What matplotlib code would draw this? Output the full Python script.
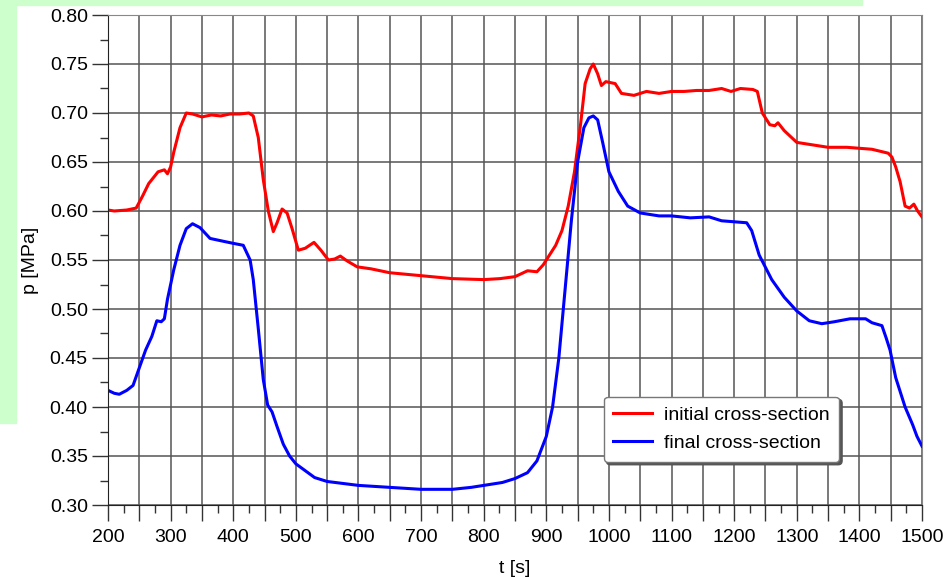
import numpy as np
import matplotlib.pyplot as plt
from matplotlib.patches import Rectangle
from matplotlib.ticker import MultipleLocator, FuncFormatter

plt.rcParams['font.family'] = ['Liberation Sans', 'DejaVu Sans']

# initial cross-section (red)
t_init = [200, 210, 230, 245, 255, 265, 280, 290, 295, 300, 305, 315, 325, 335, 350,
          365, 380, 395, 410, 425, 432, 440, 448, 456, 464, 470, 478, 486, 494, 504,
          515, 529, 540, 552, 562, 571, 582, 598, 620, 650, 700, 750, 800, 826, 850,
          870, 885, 895, 905, 915, 925, 935, 945, 955, 962, 970, 975, 982, 988, 995,
          1010, 1020, 1040, 1060, 1080, 1100, 1120, 1140, 1160, 1180, 1195, 1210, 1230,
          1237, 1245, 1257, 1265, 1270, 1280, 1300, 1310, 1330, 1350, 1380, 1400, 1420,
          1446, 1452, 1458, 1465, 1473, 1480, 1487, 1493, 1500]
p_init = [0.601, 0.600, 0.601, 0.603, 0.615, 0.628, 0.640, 0.642, 0.638, 0.645, 0.660,
          0.685, 0.700, 0.699, 0.696, 0.698, 0.697, 0.699, 0.699, 0.700, 0.697, 0.675,
          0.632, 0.600, 0.579, 0.588, 0.602, 0.598, 0.582, 0.560, 0.562, 0.568, 0.560,
          0.550, 0.551, 0.554, 0.549, 0.543, 0.541, 0.537, 0.534, 0.531, 0.530, 0.531,
          0.533, 0.539, 0.538, 0.545, 0.555, 0.565, 0.580, 0.605, 0.640, 0.690, 0.730,
          0.745, 0.750, 0.740, 0.728, 0.732, 0.730, 0.720, 0.718, 0.722, 0.720, 0.722,
          0.722, 0.723, 0.723, 0.725, 0.722, 0.725, 0.724, 0.722, 0.700, 0.688, 0.687,
          0.690, 0.682, 0.670, 0.669, 0.667, 0.665, 0.665, 0.664, 0.663, 0.659, 0.655,
          0.645, 0.630, 0.605, 0.603, 0.607, 0.600, 0.594]

# final cross-section (blue)
t_fin = [200, 210, 218, 230, 240, 250, 260, 270, 278, 285, 290, 295, 305, 315, 325,
         335, 347, 363, 385, 400, 416, 427, 432, 440, 448, 455, 462, 470, 480, 490,
         500, 515, 530, 550, 600, 650, 700, 750, 780, 800, 830, 850, 870, 885, 900,
         910, 920, 930, 940, 950, 960, 968, 975, 982, 990, 1000, 1015, 1030, 1050,
         1080, 1100, 1130, 1160, 1180, 1200, 1220, 1228, 1240, 1260, 1280, 1300, 1320,
         1340, 1360, 1385, 1410, 1420, 1436, 1443, 1449, 1458, 1473, 1485, 1492, 1500]
p_fin = [0.417, 0.414, 0.413, 0.417, 0.422, 0.440, 0.458, 0.472, 0.488, 0.487, 0.490,
         0.510, 0.540, 0.565, 0.582, 0.587, 0.583, 0.572, 0.569, 0.567, 0.565, 0.550,
         0.530, 0.480, 0.428, 0.402, 0.395, 0.380, 0.362, 0.350, 0.342, 0.335, 0.328,
         0.324, 0.320, 0.318, 0.316, 0.316, 0.318, 0.320, 0.323, 0.327, 0.333, 0.345,
         0.370, 0.400, 0.450, 0.520, 0.590, 0.650, 0.685, 0.695, 0.697, 0.693, 0.670,
         0.640, 0.620, 0.605, 0.598, 0.595, 0.595, 0.593, 0.594, 0.590, 0.589, 0.588,
         0.580, 0.555, 0.530, 0.512, 0.498, 0.488, 0.485, 0.487, 0.490, 0.490, 0.486,
         0.483, 0.470, 0.458, 0.430, 0.400, 0.382, 0.370, 0.360]

fig = plt.figure(figsize=(9.43, 5.77), dpi=100)
# light green slide background pieces
fig.patches.append(Rectangle((0, 1 - 5 / 577), 862 / 943, 5 / 577, transform=fig.transFigure,
                             color='#ccffcc', zorder=0))
fig.patches.append(Rectangle((0, 1 - 423 / 577), 16 / 943, 423 / 577, transform=fig.transFigure,
                             color='#ccffcc', zorder=0))

ax = fig.add_axes([108 / 943, 1 - 505 / 577, 814 / 943, 490 / 577])
ax.plot(t_init, p_init, color='#ff0000', lw=2.2, label='initial cross-section')
ax.plot(t_fin, p_fin, color='#0000ff', lw=2.2, label='final cross-section')

ax.set_xlim(200, 1500)
ax.set_ylim(0.30, 0.80)
ax.xaxis.set_major_locator(MultipleLocator(50))
ax.xaxis.set_minor_locator(MultipleLocator(25))
ax.xaxis.set_major_formatter(FuncFormatter(lambda v, pos: '%d' % v if v % 100 == 0 else ''))
ax.yaxis.set_major_locator(MultipleLocator(0.05))
ax.yaxis.set_minor_locator(MultipleLocator(0.025))
ax.yaxis.set_major_formatter(FuncFormatter(lambda v, pos: '%.2f' % v))
ax.tick_params(which='major', length=11.5, width=1, color='#333333', labelsize=14, direction='out')
ax.tick_params(which='minor', length=6, width=1, color='#333333', direction='out')
ax.tick_params(axis='x', pad=6)
ax.tick_params(axis='y', pad=3)
ax.grid(which='major', color='#555555', lw=1.1)
for s in ['top', 'right']:
    ax.spines[s].set_color('#888888')
for s in ['left', 'bottom']:
    ax.spines[s].set_color('#222222')

ax.set_xlabel('t [s]', fontsize=14, labelpad=10)
ax.set_ylabel('p [MPa]', fontsize=14, labelpad=8)

leg = ax.legend(loc='lower left', bbox_to_anchor=(0.597, 0.068), fontsize=14, frameon=True,
                fancybox=True, shadow={'color': '#555555', 'alpha': 1}, framealpha=1,
                edgecolor='#777777', handlelength=2.0, handletextpad=0.6, borderpad=0.5,
                labelspacing=0.55)

plt.savefig('out.png', dpi=100)
